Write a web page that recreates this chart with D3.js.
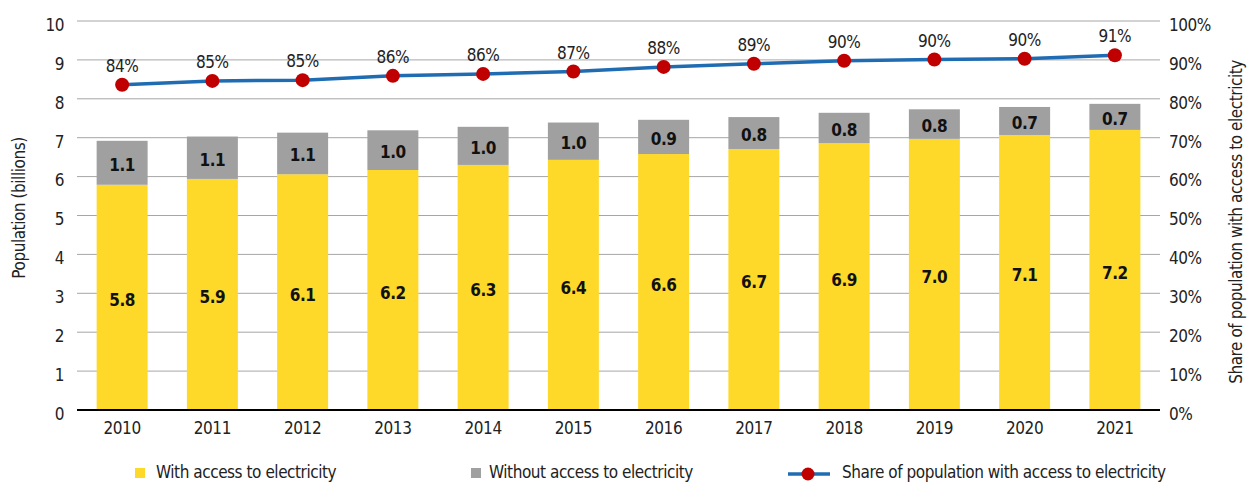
<!DOCTYPE html>
<html><head><meta charset="utf-8">
<script src="https://cdn.jsdelivr.net/npm/d3@7"></script>
<style>body{margin:0;background:#fff}svg{display:block}text{font-family:"DejaVu Sans Condensed","DejaVu Sans",sans-serif;font-stretch:condensed;letter-spacing:-0.45px}</style>
</head><body><svg id="c" width="1247" height="482"></svg>
<script>
const years = ["2010","2011","2012","2013","2014","2015","2016","2017","2018","2019","2020","2021"];
const withAccess = [5.79,5.94,6.06,6.17,6.30,6.43,6.58,6.71,6.86,6.97,7.07,7.20];
const withoutAccess = [1.13,1.09,1.07,1.02,0.98,0.96,0.88,0.82,0.78,0.76,0.72,0.67];
const sharePct = [83.6,84.6,84.8,85.9,86.4,87.0,88.2,89.0,89.8,90.1,90.3,91.2];
const leftTicks = [0,1,2,3,4,5,6,7,8,9,10];
const rightTicks = [0,10,20,30,40,50,60,70,80,90,100];
const seriesNames = ["With access to electricity","Without access to electricity","Share of population with access to electricity"];

const svg = d3.select("#c");
const L = 77, R = 1160, T = 21, B = 410;
const FS = 17;
const x = d3.scaleBand().domain(years).range([L, R]).paddingInner(0.435).paddingOuter(0.2175);
const y = d3.scaleLinear().domain([0, 10]).range([B, T]);
const y2 = d3.scaleLinear().domain([0, 100]).range([B, T]);
const cYellow = "#FFD92A", cGray = "#A0A0A0", cBlue = "#1F6CB3", cRed = "#C00000";

// gridlines
svg.append("g").selectAll("line").data(leftTicks.filter(d => d > 0)).join("line")
  .attr("x1", L).attr("x2", R).attr("y1", d => y(d)).attr("y2", d => y(d))
  .attr("stroke", "#A6A6A6").attr("stroke-width", 1);

// left axis labels
const ax = svg.append("g").attr("transform", `translate(${L},0)`)
  .call(d3.axisLeft(y).tickValues(leftTicks).tickSize(0).tickPadding(13).tickFormat(d3.format("d")));
ax.select(".domain").remove();
ax.selectAll("text").attr("font-size", FS).attr("fill", "#222").attr("dy", "0.55em").attr("font-family", null);

// right axis labels
const ax2 = svg.append("g").attr("transform", `translate(${R},0)`)
  .call(d3.axisRight(y2).tickValues(rightTicks).tickSize(0).tickPadding(9).tickFormat(d => d + "%"));
ax2.select(".domain").remove();
ax2.selectAll("text").attr("font-size", FS).attr("fill", "#222").attr("dy", "0.55em").attr("font-family", null);

// bars
const bars = svg.append("g");
bars.selectAll("rect.w").data(years).join("rect").attr("class", "w")
  .attr("x", d => x(d)).attr("width", x.bandwidth())
  .attr("y", (d, i) => y(withAccess[i])).attr("height", (d, i) => y(0) - y(withAccess[i]))
  .attr("fill", cYellow);
bars.selectAll("rect.wo").data(years).join("rect").attr("class", "wo")
  .attr("x", d => x(d)).attr("width", x.bandwidth())
  .attr("y", (d, i) => y(withAccess[i] + withoutAccess[i])).attr("height", (d, i) => y(withAccess[i]) - y(withAccess[i] + withoutAccess[i]))
  .attr("fill", cGray);

// bar labels
const f1 = v => (Math.round(v * 10) / 10).toFixed(1);
svg.append("g").selectAll("text").data(years).join("text")
  .attr("x", d => x(d) + x.bandwidth() / 2)
  .attr("y", (d, i) => (y(0) + y(withAccess[i])) / 2 + 4)
  .attr("text-anchor", "middle").attr("dominant-baseline", "middle")
  .attr("font-size", FS).attr("font-weight", "bold").attr("fill", "#111")
  .text((d, i) => f1(withAccess[i]));
svg.append("g").selectAll("text").data(years).join("text")
  .attr("x", d => x(d) + x.bandwidth() / 2)
  .attr("y", (d, i) => (y(withAccess[i]) + y(withAccess[i] + withoutAccess[i])) / 2 + 3)
  .attr("text-anchor", "middle").attr("dominant-baseline", "middle")
  .attr("font-size", FS).attr("font-weight", "bold").attr("fill", "#111")
  .text((d, i) => f1(withoutAccess[i]));

// baseline
svg.append("line").attr("x1", L).attr("x2", R).attr("y1", B).attr("y2", B)
  .attr("stroke", "#000").attr("stroke-width", 2.2);

// x axis labels
const axx = svg.append("g").attr("transform", `translate(0,${B})`)
  .call(d3.axisBottom(x).tickSize(0).tickPadding(12));
axx.select(".domain").remove();
axx.selectAll("text").attr("font-size", FS).attr("fill", "#222").attr("font-family", null);

// share line
const line = d3.line().x((d, i) => x(years[i]) + x.bandwidth() / 2).y(d => y2(d));
svg.append("path").datum(sharePct).attr("d", line).attr("fill", "none")
  .attr("stroke", cBlue).attr("stroke-width", 3.5);
svg.append("g").selectAll("circle").data(sharePct).join("circle")
  .attr("cx", (d, i) => x(years[i]) + x.bandwidth() / 2).attr("cy", d => y2(d)).attr("r", 7)
  .attr("fill", cRed);
svg.append("g").selectAll("text").data(sharePct).join("text")
  .attr("x", (d, i) => x(years[i]) + x.bandwidth() / 2).attr("y", d => y2(d) - 13)
  .attr("text-anchor", "middle").attr("font-size", FS).attr("fill", "#222")
  .text(d => Math.round(d) + "%");

// axis titles
svg.append("text").attr("transform", `translate(25,208) rotate(-90)`)
  .attr("text-anchor", "middle").attr("font-size", FS).attr("fill", "#222").text("Population (billions)");
svg.append("text").attr("transform", `translate(1242,222) rotate(-90)`)
  .attr("text-anchor", "middle").attr("font-size", FS).attr("fill", "#222").text("Share of population with access to electricity");

// legend
const lg = svg.append("g");
lg.append("rect").attr("x", 135).attr("y", 468).attr("width", 10).attr("height", 10).attr("fill", cYellow);
lg.append("text").attr("x", 156).attr("y", 478).attr("font-size", FS).attr("fill", "#222").text(seriesNames[0]);
lg.append("rect").attr("x", 471).attr("y", 468).attr("width", 10).attr("height", 10).attr("fill", cGray);
lg.append("text").attr("x", 489).attr("y", 478).attr("font-size", FS).attr("fill", "#222").text(seriesNames[1]);
lg.append("line").attr("x1", 788).attr("x2", 830).attr("y1", 474).attr("y2", 474).attr("stroke", cBlue).attr("stroke-width", 3.5);
lg.append("circle").attr("cx", 808).attr("cy", 474).attr("r", 6.5).attr("fill", cRed);
lg.append("text").attr("x", 842).attr("y", 478).attr("font-size", FS).attr("fill", "#222").text(seriesNames[2]);
</script></body></html>
